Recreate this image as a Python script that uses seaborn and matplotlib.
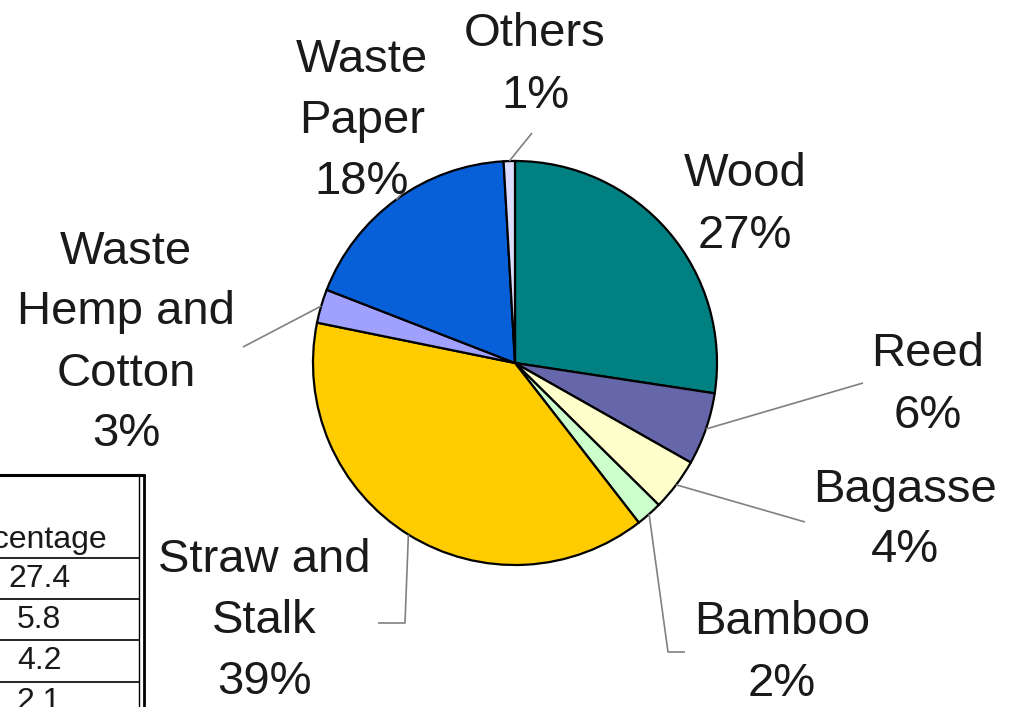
import numpy as np
import matplotlib.pyplot as plt
import seaborn as sns

# -------------------------------------------------------
# Data: raw material structure of pulp (percent)
# -------------------------------------------------------
materials = ["Wood", "Reed", "Bagasse", "Bamboo", "Straw and\nStalk",
             "Waste\nHemp and\nCotton", "Waste\nPaper", "Others"]
percent = [27.4, 5.8, 4.2, 2.1, 38.7, 2.7, 18.2, 0.9]
colors = ["#008080", "#6666AA", "#FFFFCC", "#CCFFCC", "#FFCC00",
          "#A0A0FF", "#0860D8", "#DDDDFF"]

# layout (pixels, origin top-left): label centres and leader line points
label_xy = [(745, 205), (928, 385), (905, 520), (782, 653),
            (264, 621), (126, 343), (362, 121), (535, 65)]
leader_pts = [None, [(863, 383)], [(805, 522)], [(668, 652), (685, 652)],
              [(405, 623), (378, 623)], [(243, 347)], [(405, 190)],
              [(532, 133)]]

W, H = 1009, 707
cx, cy, rad = 515, 363, 202

sns.set_theme(style="white")
plt.rcParams['font.family'] = ['Liberation Sans', 'DejaVu Sans']

fig = plt.figure(figsize=(W / 100, H / 100), dpi=100)
ax = fig.add_axes([0, 0, 1, 1])

wedges, _ = ax.pie(percent, colors=colors, startangle=90, counterclock=False,
                   center=(cx, H - cy), radius=rad,
                   wedgeprops=dict(edgecolor="black", linewidth=1.6))

ax.set_xlim(0, W)
ax.set_ylim(0, H)
ax.set_aspect('equal')
ax.axis('off')

# etykiety + linie odniesienia
for w, name, val, (lx, ly), pts in zip(wedges, materials, percent, label_xy, leader_pts):
    ax.text(lx, H - ly, f"{name}\n{round(val)}%", ha='center', va='center',
            fontsize=34, color='#1a1a1a', linespacing=1.5)
    if pts is None:
        continue
    mid = np.deg2rad((w.theta1 + w.theta2) / 2)
    xs = [cx + rad * np.cos(mid)] + [p[0] for p in pts]
    ys = [H - cy + rad * np.sin(mid)] + [H - p[1] for p in pts]
    ax.plot(xs, ys, color='#808080', lw=1.2, solid_capstyle='butt')

# fragment tabeli po lewej stronie
tab_top, head_bottom, row_h = 475, 558, 41.2
ax.plot([0, 144], [H - tab_top, H - tab_top], color='black', lw=2.2)
for xv, lw in [(139, 1.0), (144, 2.0)]:
    ax.plot([xv, xv], [H - tab_top, 0], color='black', lw=lw)
ax.text(107, H - 540, "Percentage", ha='right', va='center', fontsize=23, color='#1a1a1a')
for i, val in enumerate(percent):
    y0 = head_bottom + i * row_h
    ax.plot([0, 139], [H - y0, H - y0], color='black', lw=1.2)
    ax.text(39, H - (y0 + row_h / 2), f"{val:.1f}", ha='center', va='center',
            fontsize=23, color='#1a1a1a')

plt.savefig("out.png", dpi=100)
plt.close()
